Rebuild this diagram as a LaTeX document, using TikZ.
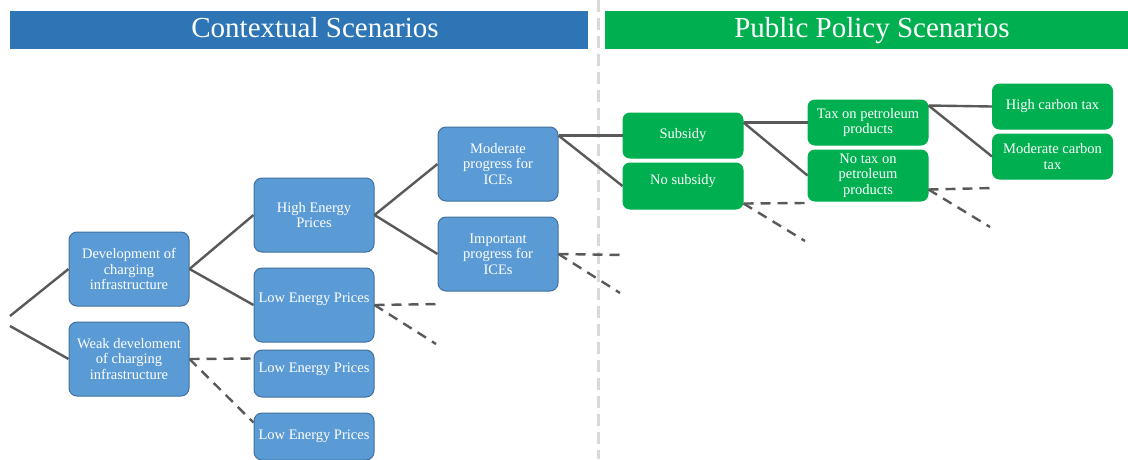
\documentclass[tikz,border=0pt]{standalone}
\usepackage{fontspec}
\setmainfont{Liberation Serif}
\usepackage{xcolor}
\usepackage{tikz}
\definecolor{barblue}{HTML}{2E75B6}
\definecolor{bargreen}{HTML}{00B050}
\definecolor{boxblue}{HTML}{5B9BD5}
\definecolor{boxborder}{HTML}{41719C}
\definecolor{edgegray}{HTML}{595959}
\definecolor{sepgray}{HTML}{D9D9D9}
\tikzset{
bluenodev1/.style={rectangle, rounded corners=8pt, draw=boxborder, fill=boxblue, line width=1pt, text=white, inner sep=0pt, minimum width=120pt, minimum height=74pt, align=center, font=\fontsize{14.5}{15.5}\selectfont},
bluenodev2/.style={bluenodev1, minimum height=47pt},
greennodev1/.style={rectangle, rounded corners=7pt, draw=bargreen, fill=bargreen, line width=1pt, text=white, inner sep=0pt, minimum width=120pt, minimum height=45pt, align=center, font=\fontsize{14.5}{15.5}\selectfont},
titletext/.style={text=white, inner sep=0pt, font=\fontsize{29}{31}\selectfont},
solidedge/.style={draw=edgegray, line width=2.4pt},
dashededge/.style={draw=edgegray, line width=2.4pt, dash pattern=on 10pt off 7pt},
sepline/.style={draw=sepgray, line width=3pt, dash pattern=on 12pt off 6pt},
}
\begin{document}
\begin{tikzpicture}[x=1pt,y=-1pt]
        \useasboundingbox (0,0) rectangle (1128,459);

        % title bars
        \fill[barblue] (10,11) rectangle (588,49);
        \fill[bargreen] (605,11) rectangle (1128,49);
        \node[titletext, anchor=base] at (315,37) (ctxtitle) {Contextual Scenarios};
        \node[titletext, anchor=base] at (872,37) (poltitle) {Public Policy Scenarios};
        \draw[sepline] (598,0) -- (598,459);

        % contextual tree
        \coordinate (roota) at (10,316);
        \coordinate (rootb) at (10,326);
        \node[bluenodev1] at (129,269) (dev) {Development of\\charging\\infrastructure};
        \node[bluenodev1] at (129,359) (weak) {Weak develoment\\of charging\\infrastructure};
        \node[bluenodev1] at (314,215) (high) {High Energy\\Prices};
        \node[bluenodev1, text depth=15pt] at (314,305) (low1) {Low Energy Prices};
        \node[bluenodev2, text depth=11pt] at (314,373.5) (low2) {Low Energy Prices};
        \node[bluenodev2] at (314,436.5) (low3) {Low Energy Prices};
        \node[bluenodev1] at (498,164) (modice) {Moderate\\progress for\\ICEs};
        \node[bluenodev1] at (498,254) (impice) {Important\\progress for\\ICEs};

        % policy tree
        \node[greennodev1] at (683,135.5) (sub) {Subsidy};
        \node[greennodev1, minimum height=46pt, text depth=13pt] at (683,186) (nosub) {No subsidy};
        \node[greennodev1] at (868,122.5) (tax) {Tax on petroleum\\products};
        \node[greennodev1, minimum height=51pt] at (868,175.5) (notax) {No tax on\\petroleum\\products};
        \node[greennodev1] at (1052.5,106.5) (highct) {High carbon tax};
        \node[greennodev1] at (1052.5,156.5) (modct) {Moderate carbon\\tax};

        % loose ends
        \coordinate (low1a) at (440,304);
        \coordinate (low1b) at (436,344);
        \coordinate (impa) at (624,255);
        \coordinate (impb) at (620,293);
        \coordinate (nosuba) at (806,203);
        \coordinate (nosubb) at (805,241);
        \coordinate (notaxa) at (993,188);
        \coordinate (notaxb) at (990,227);

        \draw[solidedge] (roota)--(dev.west);
        \draw[solidedge] (rootb)--(weak.west);
        \draw[solidedge] (dev.east)--(high.west);
        \draw[solidedge] (dev.east)--(low1.west);
        \draw[dashededge] (weak.east)--([yshift=-9pt]low2.north west);
        \draw[dashededge] (weak.east)--([yshift=-10pt]low3.north west);
        \draw[solidedge] (high.east)--(modice.west);
        \draw[solidedge] (high.east)--(impice.west);
        \draw[dashededge] (low1.east)--(low1a);
        \draw[dashededge] (low1.east)--(low1b);
        \draw[solidedge] ([yshift=-9pt]modice.north east)--(sub.west);
        \draw[solidedge] ([yshift=-9pt]modice.north east)--(nosub.west);
        \draw[dashededge] (impice.east)--(impa);
        \draw[dashededge] (impice.east)--(impb);
        \draw[solidedge] ([yshift=-10pt]sub.north east)--(tax.west);
        \draw[solidedge] ([yshift=-10pt]sub.north east)--(notax.west);
        \draw[dashededge] ([yshift=6pt]nosub.south east)--(nosuba);
        \draw[dashededge] ([yshift=6pt]nosub.south east)--(nosubb);
        \draw[solidedge] ([yshift=-6pt]tax.north east)--(highct.west);
        \draw[solidedge] ([yshift=-6pt]tax.north east)--(modct.west);
        \draw[dashededge] ([yshift=12pt]notax.south east)--(notaxa);
        \draw[dashededge] ([yshift=12pt]notax.south east)--(notaxb);
    \end{tikzpicture}
\end{document}
